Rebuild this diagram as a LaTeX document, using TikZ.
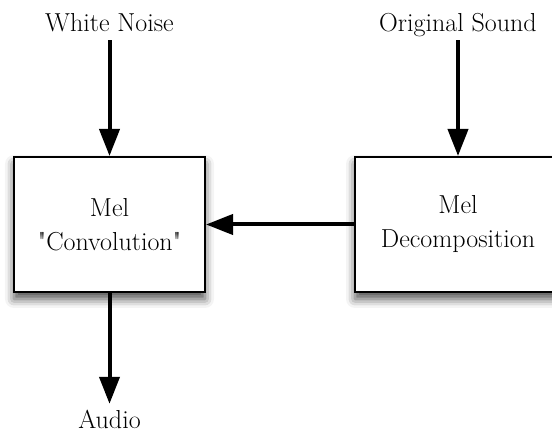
\documentclass[tikz,border=0pt]{standalone}
\usepackage{tikz}
\usetikzlibrary{positioning,arrows.meta,shadows.blur}

\begin{document}
\begin{tikzpicture}[
			x=1pt, y=1pt,
			>={Triangle[length=27pt,width=20pt]},
			font=\fontsize{26}{34}\selectfont,
			block/.style={draw, line width=2pt, fill=white, align=center, minimum height=135pt,
				blur shadow={shadow xshift=0pt, shadow yshift=-7pt, shadow blur radius=9pt, shadow opacity=70}},
			signal/.style={inner sep=0pt, text height=17pt, text depth=0pt},
			flow/.style={line width=4pt}
			]
			\useasboundingbox (0,0) rectangle (552,434);
			\node[block, minimum width=191pt] (conv) at (109.5,209.5) {Mel\\\textquotedbl Convolution\textquotedbl};
			\node[block, minimum width=206pt] (decomp) at (458,209.5) {Mel\\Decomposition};
			\node[signal, anchor=base] (noise) at (109.5,402) {White Noise};
			\node[signal, anchor=base] (orig) at (458,402) {Original Sound};
			\node[signal, anchor=base] (audio) at (109.5,5) {Audio};
			
			\path[->, flow] (noise) edge[shorten <=8pt] (conv);
			\path[->, flow] (orig) edge[shorten <=8pt] (decomp);
			\path[->, flow] (decomp) edge (conv);
			\path[->, flow] (conv) edge[shorten >=8pt] (audio);
		\end{tikzpicture}
\end{document}
